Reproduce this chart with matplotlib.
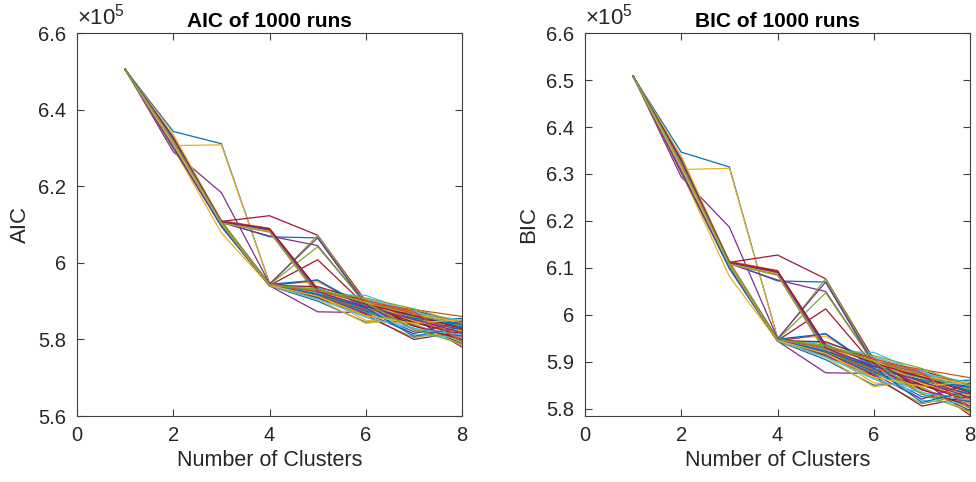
import matplotlib
matplotlib.use("Agg")
import matplotlib.pyplot as plt
from matplotlib.ticker import FuncFormatter

plt.rcParams['font.family'] = ['Liberation Sans', 'DejaVu Sans']
plt.rcParams['mathtext.fontset'] = 'custom'
plt.rcParams['mathtext.rm'] = 'Liberation Sans'
plt.rcParams['mathtext.it'] = 'Liberation Sans'

# Number of clusters (x axis)
clusters = [1, 2, 3, 4, 5, 6, 7, 8]

# AIC of representative runs, in units of 1e5
aic_runs = [
    [6.505, 6.343, 6.311, 5.947, 5.912, 5.880, 5.855, 5.825],  # blue outlier
    [6.505, 6.320, 6.108, 6.088, 5.925, 5.885, 5.860, 5.830],
    [6.505, 6.306, 6.308, 5.946, 5.918, 5.878, 5.843, 5.818],  # yellow outlier
    [6.505, 6.290, 6.183, 5.946, 5.910, 5.872, 5.835, 5.808],  # purple outlier
    [6.505, 6.320, 6.105, 5.942, 5.915, 5.880, 5.845, 5.815],
    [6.505, 6.310, 6.102, 5.940, 5.905, 5.870, 5.830, 5.800],
    [6.505, 6.320, 6.108, 6.123, 6.072, 5.900, 5.875, 5.845],  # dark red outlier
    [6.505, 6.325, 6.107, 6.068, 6.065, 5.895, 5.870, 5.830],
    [6.505, 6.315, 6.106, 6.085, 5.920, 5.875, 5.845, 5.815],
    [6.505, 6.325, 6.108, 5.944, 5.925, 5.895, 5.860, 5.835],
    [6.505, 6.300, 6.095, 5.940, 5.872, 5.870, 5.845, 5.825],
    [6.505, 6.300, 6.100, 5.941, 5.910, 5.860, 5.805, 5.825],
    [6.505, 6.330, 6.110, 5.945, 5.930, 5.900, 5.870, 5.840],
    [6.505, 6.315, 6.104, 5.943, 5.920, 5.885, 5.855, 5.780],
    [6.505, 6.305, 6.095, 5.940, 5.900, 5.845, 5.850, 5.855],
    [6.505, 6.325, 6.110, 6.090, 5.930, 5.895, 5.870, 5.845],
    [6.505, 6.300, 6.078, 5.940, 5.905, 5.842, 5.855, 5.835],
    [6.505, 6.318, 6.105, 6.070, 6.045, 5.892, 5.866, 5.838],
    [6.505, 6.320, 6.106, 5.942, 6.072, 5.895, 5.865, 5.835],
    [6.505, 6.320, 6.106, 5.942, 5.935, 5.905, 5.875, 5.830],
    [6.505, 6.322, 6.106, 5.941, 6.008, 5.888, 5.845, 5.810],
    [6.505, 6.312, 6.103, 5.941, 5.912, 5.875, 5.820, 5.810],
    [6.505, 6.318, 6.105, 6.082, 5.918, 5.890, 5.825, 5.805],
    [6.505, 6.335, 6.109, 5.944, 5.950, 5.890, 5.865, 5.845],
    [6.505, 6.300, 6.100, 5.940, 5.955, 5.880, 5.840, 5.790],
    [6.505, 6.318, 6.105, 5.943, 6.042, 5.893, 5.858, 5.840],
    [6.505, 6.318, 6.105, 5.943, 5.918, 5.915, 5.870, 5.850],
    [6.505, 6.308, 6.101, 5.941, 5.908, 5.865, 5.800, 5.820],
    [6.505, 6.322, 6.107, 6.087, 5.928, 5.880, 5.855, 5.840],
    [6.505, 6.322, 6.107, 5.942, 5.928, 5.895, 5.878, 5.860],
    [6.505, 6.326, 6.106, 5.943, 5.915, 5.850, 5.840, 5.785],
    [6.505, 6.315, 6.104, 5.945, 6.065, 5.890, 5.850, 5.825],
    [6.505, 6.312, 6.104, 6.080, 5.915, 5.870, 5.838, 5.795],
    [6.505, 6.315, 6.104, 5.942, 5.922, 5.888, 5.812, 5.805],
    [6.505, 6.320, 6.105, 5.941, 5.938, 5.900, 5.835, 5.800],
    [6.505, 6.312, 6.103, 5.944, 5.955, 5.885, 5.862, 5.832],
    [6.505, 6.317, 6.105, 5.944, 5.925, 5.878, 5.868, 5.815],
    [6.505, 6.323, 6.106, 6.084, 5.922, 5.898, 5.848, 5.822],
    [6.505, 6.314, 6.104, 5.942, 5.915, 5.868, 5.815, 5.848],
    [6.505, 6.319, 6.105, 5.943, 5.926, 5.908, 5.880, 5.842],
    [6.505, 6.309, 6.102, 5.941, 5.906, 5.858, 5.828, 5.812],
    [6.505, 6.327, 6.108, 6.089, 5.932, 5.892, 5.862, 5.828],
    [6.505, 6.316, 6.104, 5.942, 5.918, 5.882, 5.808, 5.832],
    [6.505, 6.321, 6.106, 5.943, 5.924, 5.902, 5.872, 5.795],
    [6.505, 6.311, 6.103, 5.941, 5.913, 5.862, 5.842, 5.852],
    [6.505, 6.324, 6.107, 6.086, 5.924, 5.886, 5.852, 5.818],
    [6.505, 6.318, 6.105, 5.942, 5.931, 5.896, 5.826, 5.788],
]

# BIC minus AIC penalty for each cluster count, in units of 1e5
bic_penalty = [0.003, 0.0035, 0.004, 0.0045, 0.005, 0.0055, 0.006, 0.0065]

aic_yticks = [5.6, 5.8, 6.0, 6.2, 6.4, 6.6]
bic_yticks = [5.8, 5.9, 6.0, 6.1, 6.2, 6.3, 6.4, 6.5, 6.6]
xticks = [0, 2, 4, 6, 8]

matlab_colors = ['#0072BD', '#D95319', '#EDB120', '#7E2F8E',
                 '#77AC30', '#4DBEEE', '#A2142F']

fig = plt.figure(figsize=(9.76, 4.82), dpi=100)
ax1 = fig.add_axes([0.0789, 0.1369, 0.3945, 0.7946])
ax2 = fig.add_axes([0.5994, 0.1369, 0.3945, 0.7946])

fmt = FuncFormatter(lambda v, p: '%g' % round(v, 2))
textc = '#262626'


def style(ax, title, ylabel, ylim, yticks):
    ax.set_xlim(0, 8)
    ax.set_ylim(*ylim)
    ax.set_xticks(xticks)
    ax.set_yticks(yticks)
    ax.yaxis.set_major_formatter(fmt)
    ax.xaxis.set_major_formatter(fmt)
    ax.tick_params(direction='in', top=True, right=True, length=5,
                   width=0.8, color='#404040', labelsize=14.5,
                   labelcolor=textc)
    ax.tick_params(axis='y', pad=8)
    ax.tick_params(axis='x', pad=7)
    for s in ax.spines.values():
        s.set_color('#404040')
        s.set_linewidth(0.8)
    ax.set_title(title, fontsize=15, fontweight='bold', color='black', pad=4)
    ax.set_xlabel('Number of Clusters', fontsize=15.5, color=textc, labelpad=4)
    ax.set_ylabel(ylabel, fontsize=16, color=textc, labelpad=5)
    ax.text(0.0, 1.008, r'$\times10^{5}$', transform=ax.transAxes,
            fontsize=16, color=textc, ha='left', va='bottom')


for i, run in enumerate(aic_runs):
    c = matlab_colors[i % 7]
    ax1.plot(clusters, run, color=c, lw=0.9)
    bic = [v + p for v, p in zip(run, bic_penalty)]
    ax2.plot(clusters, bic, color=c, lw=0.9)

style(ax1, 'AIC of 1000 runs', 'AIC', (5.6, 6.6), aic_yticks)
style(ax2, 'BIC of 1000 runs', 'BIC', (5.785, 6.6), bic_yticks)

fig.savefig('out.png', dpi=100)
